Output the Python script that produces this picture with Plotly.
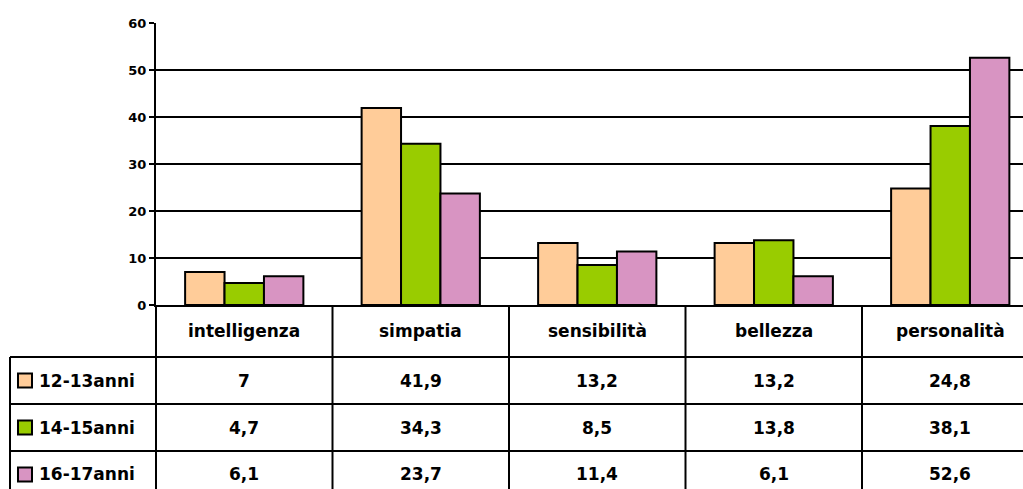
import plotly.graph_objects as go

categories = ["intelligenza", "simpatia", "sensibilità", "bellezza", "personalità"]
series_names = ["12-13anni", "14-15anni", "16-17anni"]
vals_12_13 = [7, 41.9, 13.2, 13.2, 24.8]
vals_14_15 = [4.7, 34.3, 8.5, 13.8, 38.1]
vals_16_17 = [6.1, 23.7, 11.4, 6.1, 52.6]
y_ticks = [0, 10, 20, 30, 40, 50, 60]

series_values = [vals_12_13, vals_14_15, vals_16_17]
colors = ["#FFCC99", "#99CC00", "#D894C2"]

W, H = 1023, 489
PLOT_L, PLOT_T, PLOT_B = 156, 23, 305   # page pixels
L, T, R = PLOT_L, PLOT_T, 0
B = H - PLOT_B
PW = W - L - R
PH = H - T - B
FONT = "DejaVu Sans"
COL_PX = 176.5


def px_x(px):
    return (px - PLOT_L) / PW


def px_y(py):
    return (PLOT_B - py) / PH


def fmt(v):
    return f"{v:g}".replace(".", ",")


fig = go.Figure()
for name, vals, c in zip(series_names, series_values, colors):
    fig.add_trace(go.Bar(
        x=categories, y=vals, name=name,
        marker=dict(color=c, line=dict(color="black", width=2)),
        showlegend=False,
    ))

shapes = []
annotations = []
header_top = PLOT_B
row_h = 47
header_bot = 357
row_tops = [header_bot + i * row_h for i in range(3)]
bottom = H + 5
TXT = dict(family=FONT, size=17, color="black", weight="bold")

shapes.append(dict(type="line", xref="paper", yref="paper", x0=0, x1=0,
                   y0=px_y(header_top), y1=px_y(bottom),
                   line=dict(color="black", width=2)))
for k in range(len(categories) - 1):
    shapes.append(dict(type="line", xref="x", yref="paper", x0=k + 0.5, x1=k + 0.5,
                       y0=px_y(header_top), y1=px_y(bottom),
                       line=dict(color="black", width=2)))
shapes.append(dict(type="line", xref="paper", yref="paper", x0=px_x(10), x1=px_x(10),
                   y0=px_y(header_bot), y1=px_y(bottom),
                   line=dict(color="black", width=2)))
for yt in row_tops:
    shapes.append(dict(type="line", xref="paper", yref="paper", x0=px_x(10), x1=1.01,
                       y0=px_y(yt), y1=px_y(yt),
                       line=dict(color="black", width=2)))

for i, cat in enumerate(categories):
    annotations.append(dict(xref="x", yref="paper", x=i, y=px_y((header_top + header_bot) / 2),
                            xanchor="center", yanchor="middle",
                            text=cat, showarrow=False, font=TXT))
for r, (name, vals, c) in enumerate(zip(series_names, series_values, colors)):
    yc = row_tops[r] + row_h / 2
    shapes.append(dict(type="rect", xref="paper", yref="paper",
                       x0=px_x(18), x1=px_x(32), y0=px_y(yc - 7), y1=px_y(yc + 7),
                       fillcolor=c, line=dict(color="black", width=2)))
    annotations.append(dict(xref="paper", yref="paper", x=px_x(37), y=px_y(yc),
                            xanchor="left", yanchor="middle",
                            text=name, showarrow=False, font=TXT))
    for i, v in enumerate(vals):
        annotations.append(dict(xref="x", yref="paper", x=i, y=px_y(yc),
                                xanchor="center", yanchor="middle",
                                text=fmt(v), showarrow=False, font=TXT))

fig.update_layout(
    width=W, height=H,
    margin=dict(l=L, r=R, t=T, b=B, pad=0),
    paper_bgcolor="white", plot_bgcolor="white",
    barmode="group", bargap=0.33, bargroupgap=0,
    shapes=shapes, annotations=annotations,
    xaxis=dict(type="category", categoryorder="array", categoryarray=categories,
               range=[-0.5, -0.5 + PW / COL_PX],
               showgrid=False, showticklabels=False, ticks="",
               showline=True, linecolor="black", linewidth=2, zeroline=False),
    yaxis=dict(range=[0, 60], tickvals=y_ticks, showgrid=True, gridcolor="black", gridwidth=2,
               showline=True, linecolor="black", linewidth=2, zeroline=False,
               ticks="outside", ticklen=5, tickwidth=2, tickcolor="black",
               tickfont=dict(family=FONT, size=13, color="black", weight="bold")),
)

fig.write_html(
    "out.html",
    config={"displayModeBar": False},
    post_script="document.body.style.margin='0';document.body.style.overflow='hidden';"
                "document.documentElement.style.overflow='hidden';",
)
